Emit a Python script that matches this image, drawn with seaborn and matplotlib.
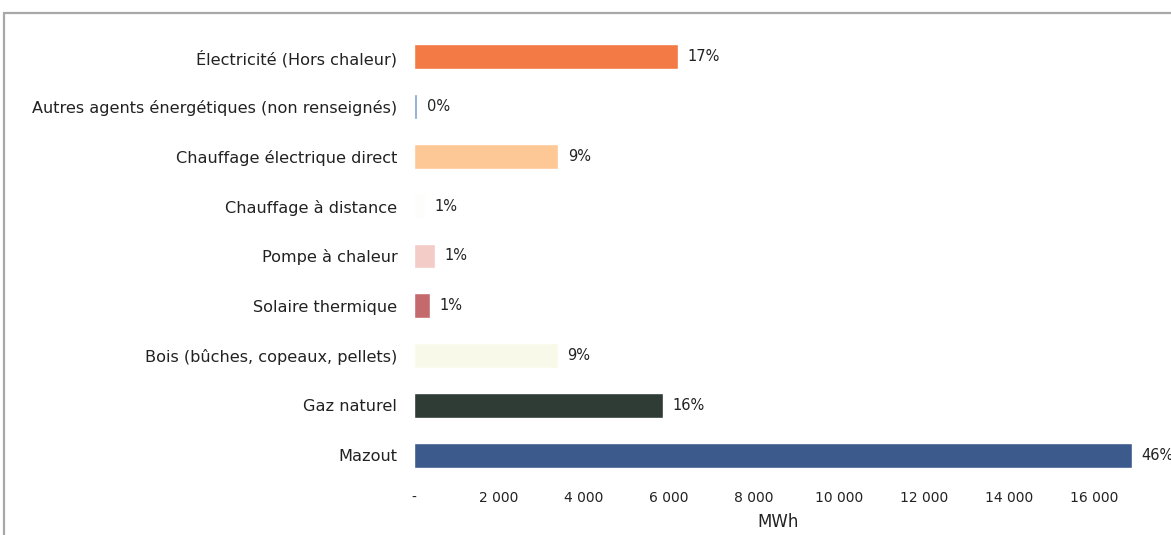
import matplotlib
matplotlib.use("Agg")
import matplotlib.pyplot as plt
from matplotlib.ticker import FuncFormatter
from matplotlib.lines import Line2D
import seaborn as sns
import pandas as pd

# Energy consumption by carrier (MWh)
categories = [
    "Électricité (Hors chaleur)",
    "Autres agents énergétiques (non renseignés)",
    "Chauffage électrique direct",
    "Chauffage à distance",
    "Pompe à chaleur",
    "Solaire thermique",
    "Bois (bûches, copeaux, pellets)",
    "Gaz naturel",
    "Mazout",
]
values_mwh = [6210, 70, 3390, 250, 490, 380, 3380, 5860, 16890]
bar_colors = [
    "#f47a45", "#7f9fd8", "#fdc896", "#fdfdfb", "#f3cbc7",
    "#c46a6d", "#f9f9ea", "#2f3b35", "#3c5a8c",
]
x_ticks = list(range(0, 17000, 2000))

sns.set_style("white")
plt.rcParams["font.family"] = ["DejaVu Sans"]
text_color = "#222222"

df = pd.DataFrame({"categorie": categories, "mwh": values_mwh})
palette = dict(zip(categories, bar_colors))

fig = plt.figure(figsize=(11.71, 5.35), dpi=100)
ax = fig.add_axes([0.3535, 0.1028, 0.6218, 0.8374])

sns.barplot(data=df, x="mwh", y="categorie", hue="categorie", palette=palette,
            legend=False, width=0.5, saturation=1, ax=ax)

total = sum(values_mwh)
for i, v in enumerate(values_mwh):
    pct = round(v / total * 100)
    ax.annotate(f"{pct}%", xy=(v, i), xytext=(7, 0), textcoords="offset points",
                va="center", ha="left", fontsize=10.5, color=text_color,
                annotation_clip=False)

ax.set_xlim(0, 17130)
ax.set_xticks(x_ticks)
ax.xaxis.set_major_formatter(FuncFormatter(
    lambda x, _: "-" if x == 0 else f"{int(x):,}".replace(",", " ")))
ax.tick_params(axis="x", length=0, pad=8, labelsize=10, labelcolor=text_color)
ax.tick_params(axis="y", length=0, pad=12, labelsize=11.6, labelcolor=text_color)
ax.set_xlabel("MWh", fontsize=12, color=text_color, labelpad=6)
ax.set_ylabel("")
for s in ax.spines.values():
    s.set_visible(False)

# Outer frame (top and left edges)
frame_color = "#a8a8a8"
fig.add_artist(Line2D([0.0038, 1.0], [0.9757, 0.9757], transform=fig.transFigure,
                      color=frame_color, lw=1.6))
fig.add_artist(Line2D([0.0038, 0.0038], [0.0, 0.9757], transform=fig.transFigure,
                      color=frame_color, lw=1.6))

fig.savefig("out.png", dpi=100, facecolor="white")
